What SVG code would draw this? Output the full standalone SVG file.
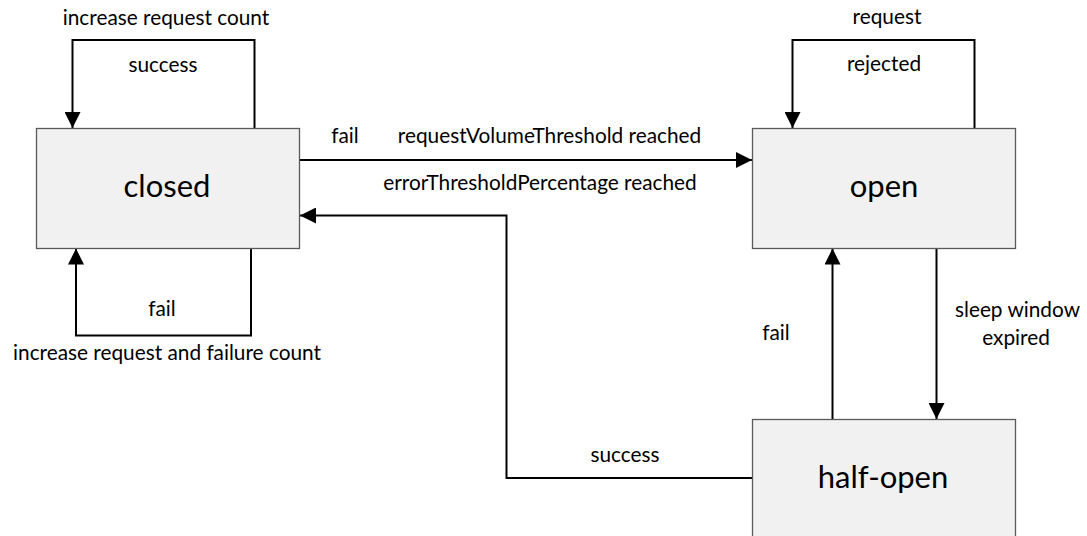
<svg xmlns="http://www.w3.org/2000/svg" width="1087" height="536" viewBox="0 0 1087 536">
  <style>
    .state rect { fill: #f1f1f1; stroke: #5a5a5a; stroke-width: 1.3; }
    .state text { font-family: Lato, "Open Sans", sans-serif; font-size: 31px; fill: #000; text-anchor: middle; }
    .edge { fill: none; stroke: #000; stroke-width: 2; }
    .lbl { font-family: Lato, "Open Sans", sans-serif; font-size: 20.8px; fill: #000; text-anchor: middle; }
  </style>
  <defs>
    <marker id="arrow" viewBox="0 0 16 16" refX="16" refY="8" markerWidth="16" markerHeight="16" markerUnits="userSpaceOnUse" orient="auto">
      <path d="M0,0 L16,8 L0,16 Z" fill="#000"/>
    </marker>
  </defs>
  <rect width="1087" height="536" fill="#fff"/>

  <g id="connectors">
    <!-- closed: success loop -->
    <path class="edge" d="M254.5,128.5 V40 H72.5 V128" marker-end="url(#arrow)"/>
    <!-- closed: fail loop -->
    <path class="edge" d="M251,248.5 V335.5 H76 V248.5" marker-end="url(#arrow)"/>
    <!-- closed -> open -->
    <path class="edge" d="M299.5,160 H752" marker-end="url(#arrow)"/>
    <!-- half-open -> closed -->
    <path class="edge" d="M752.5,478 H506.5 V215.5 H300" marker-end="url(#arrow)"/>
    <!-- open: rejected loop -->
    <path class="edge" d="M974.5,128.5 V40 H792.5 V128" marker-end="url(#arrow)"/>
    <!-- half-open -> open -->
    <path class="edge" d="M832.5,419.5 V248.5" marker-end="url(#arrow)"/>
    <!-- open -> half-open -->
    <path class="edge" d="M936.5,248.5 V419" marker-end="url(#arrow)"/>

    <text class="lbl" x="166" y="25">increase request count</text>
    <text class="lbl" x="163" y="72">success</text>
    <text class="lbl" x="162" y="316">fail</text>
    <text class="lbl" x="167" y="360">increase request and failure count</text>
    <text class="lbl" x="345" y="143">fail</text>
    <text class="lbl" x="549.5" y="143">requestVolumeThreshold reached</text>
    <text class="lbl" x="540" y="190">errorThresholdPercentage reached</text>
    <text class="lbl" x="625" y="462">success</text>
    <text class="lbl" x="887" y="24">request</text>
    <text class="lbl" x="884" y="71">rejected</text>
    <text class="lbl" x="776" y="340">fail</text>
    <text class="lbl" x="1017.5" y="317">sleep window</text>
    <text class="lbl" x="1016" y="345">expired</text>
  </g>

  <g id="closed" class="state">
    <rect x="36.5" y="128.5" width="263" height="120"/>
    <text x="167" y="197">closed</text>
  </g>
  <g id="open" class="state">
    <rect x="752.5" y="128.5" width="263" height="120"/>
    <text x="884" y="197">open</text>
  </g>
  <g id="half-open" class="state">
    <rect x="752.5" y="419.5" width="263" height="120"/>
    <text x="883" y="488">half-open</text>
  </g>
</svg>
